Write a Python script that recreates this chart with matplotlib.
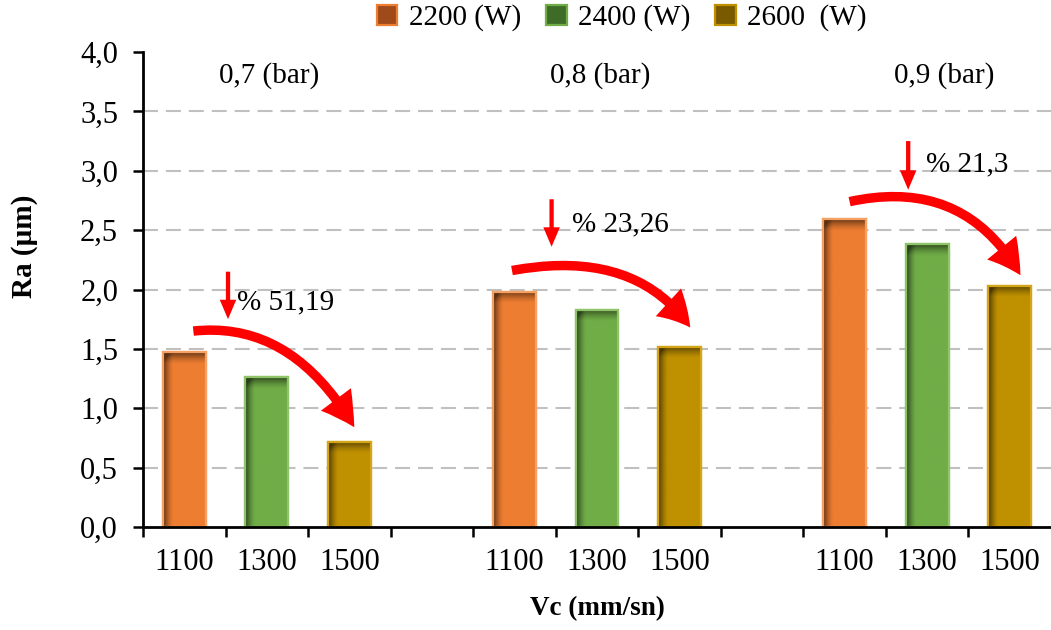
import numpy as np
import matplotlib
matplotlib.use("Agg")
import matplotlib.pyplot as plt
from matplotlib.patches import FancyArrowPatch, Rectangle
from matplotlib.path import Path
from matplotlib.colors import to_rgb

plt.rcParams['font.family'] = ['Liberation Serif', 'DejaVu Serif']

# ---- data -------------------------------------------------------------
speed_labels = ['1100', '1300', '1500', '', '1100', '1300', '1500', '', '1100', '1300', '1500']
power_series = ['2200 (W)', '2400 (W)', '2600  (W)']
pressure_labels = ['0,7 (bar)', '0,8 (bar)', '0,9 (bar)']
ra_2200 = [1.47, 1.98, 2.59]
ra_2400 = [1.26, 1.83, 2.38]
ra_2600 = [0.72, 1.52, 2.03]
reduction_labels = ['% 51,19', '% 23,26', '% 21,3']

series_colors = ['#ED7D31', '#70AD47', '#BF9000']
edge_colors = ['#F4A163', '#8FC46A', '#D4A516']
legend_faces = ['#9E4A1A', '#3E6B27', '#7A5A00']

# ---- figure -----------------------------------------------------------
W, H = 1051, 630
fig = plt.figure(figsize=(W / 100, H / 100), dpi=100)
ax = fig.add_axes([143 / W, 1 - 527 / H, 908 / W, 475 / H])

n_cat = len(speed_labels)
bar_w = 0.52
series_values = [ra_2200, ra_2400, ra_2600]
for s, (vals, col, ecol) in enumerate(zip(series_values, series_colors, edge_colors)):
    xs = [g * 4 + s for g in range(len(vals))]
    bars = ax.bar(xs, vals, width=bar_w, color=col, edgecolor=ecol,
                  linewidth=1.6, zorder=3)
    # inner shadow along the left and top edges of each bar
    base = np.array(to_rgb(col))
    for b in bars:
        x0, w, h = b.get_x(), b.get_width(), b.get_height()
        nx, ny = 60, max(int(h * 120), 10)
        gx = np.linspace(0, w, nx)[None, :]
        gy = np.linspace(h, 0, ny)[:, None]
        left = np.clip(1 - gx / (0.24 * w), 0, 1) ** 1.5
        top = np.clip(1 - (h - gy) / 0.10, 0, 1) ** 1.5
        shade = np.clip(0.6 * left + 0.55 * top, 0, 0.62)
        img = base[None, None, :] * (1 - shade[..., None])
        ax.imshow(img, extent=(x0, x0 + w, 0, h), aspect='auto',
                  interpolation='bilinear', zorder=3.5)
        ax.add_patch(Rectangle((x0, 0), w, h, fill=False, edgecolor=ecol,
                               linewidth=1.6, zorder=4))

ax.set_xlim(-0.5, n_cat - 0.5)
ax.set_ylim(0, 4.0)

# ---- axes styling ------------------------------------------------------
for side in ('top', 'right'):
    ax.spines[side].set_visible(False)
for side in ('left', 'bottom'):
    ax.spines[side].set_linewidth(2.0)
    ax.spines[side].set_zorder(5)

yt = np.arange(0, 4.01, 0.5)
ax.set_yticks(yt)
ax.set_yticklabels([f'{v:.1f}'.replace('.', ',') for v in yt], fontsize=22)
ax.tick_params(axis='y', direction='out', length=7, width=1.8, pad=11)

ax.set_xticks(np.arange(-0.5, n_cat - 0.5, 1.0))
ax.set_xticklabels([])
ax.set_xticks(np.arange(n_cat), minor=True)
ax.set_xticklabels(speed_labels, minor=True, fontsize=22)
ax.tick_params(axis='x', which='major', direction='out', length=7, width=1.8)
ax.tick_params(axis='x', which='minor', length=0, pad=15)

for v in yt[1:-1]:
    ax.axhline(v, color='#C0C0C0', linewidth=1.5, ls=(0, (7.2, 3.8)), zorder=1)

fig.text(24 / W, 1 - 246 / H, 'Ra (µm)', rotation=90, ha='center', va='center',
         fontsize=21, fontweight='bold')
ax.set_xlabel('Vc (mm/sn)', fontsize=19.5, fontweight='bold', labelpad=14)

# ---- group labels ------------------------------------------------------
group_label_x = [1.03, 5.04, 9.20]
for gx, lab in zip(group_label_x, pressure_labels):
    ax.text(gx, 3.80, lab, ha='center', va='center', fontsize=21)

# ---- reduction arrows --------------------------------------------------
curve_start = [(0.11, 1.65), (3.97, 2.16), (8.06, 2.74)]
curve_ctrl = [(1.30, 1.74), (5.46, 2.35), (9.45, 2.95)]
curve_end = [(2.06, 0.84), (6.13, 1.68), (10.13, 2.12)]
down_x = [0.53, 4.45, 8.77]
down_top = [2.15, 2.76, 3.25]
down_bot = [1.75, 2.36, 2.84]
text_pos = [(0.64, 1.89), (4.70, 2.55), (8.98, 3.05)]

for i in range(3):
    path = Path([curve_start[i], curve_ctrl[i], curve_end[i]],
                [Path.MOVETO, Path.CURVE3, Path.CURVE3])
    arc = FancyArrowPatch(path=path,
                          arrowstyle='simple,head_length=1.2,head_width=1.35,tail_width=0.34',
                          mutation_scale=20, color='#FF0000', lw=0, zorder=6)
    ax.add_patch(arc)
    ax.annotate('', xy=(down_x[i], down_bot[i]), xytext=(down_x[i], down_top[i]),
                arrowprops=dict(arrowstyle='simple,head_length=1.0,head_width=0.85,tail_width=0.22',
                                mutation_scale=14, color='#FF0000', lw=0,
                                shrinkA=0, shrinkB=0),
                zorder=6)
    ax.text(text_pos[i][0], text_pos[i][1], reduction_labels[i], ha='left',
            va='center', fontsize=21, zorder=6)

# ---- legend ------------------------------------------------------------
handles = [Rectangle((0, 0), 1, 1, facecolor=f, edgecolor=e, linewidth=1.6)
           for f, e in zip(legend_faces, series_colors)]
fig.legend(handles, power_series, loc='center', bbox_to_anchor=(622 / W, 1 - 18 / H),
           ncol=3, frameon=False, fontsize=21, handlelength=0.7, handleheight=0.7,
           handletextpad=0.4, columnspacing=0.85, borderpad=0)

fig.savefig('out.png', dpi=100)
